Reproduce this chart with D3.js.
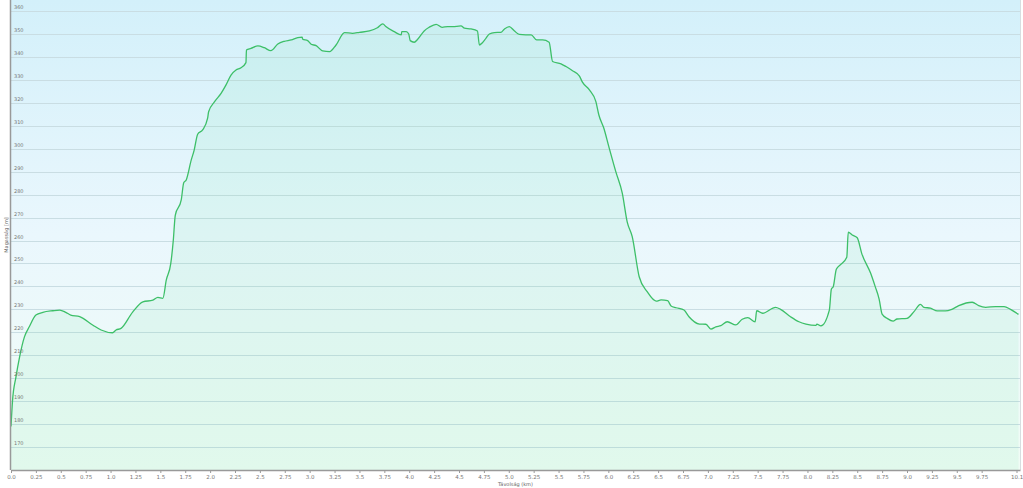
<!DOCTYPE html>
<html>
<head>
<meta charset="utf-8">
<script src="https://cdn.jsdelivr.net/npm/d3@7"></script>
<style>
  body { margin: 0; background: #fff; }
  svg { display: block; font-family: 'DejaVu Sans', sans-serif; }
</style>
</head>
<body>
<div id="chart"></div>
<script>
// distance along the track (km)
const distKm = [
  0.00, 0.015, 0.05, 0.085, 0.135, 0.185, 0.25, 0.32, 0.42, 0.49, 0.55, 0.60, 0.69, 0.82, 0.905,
  1.02, 1.055, 1.105, 1.22, 1.325, 1.425, 1.475, 1.525, 1.56, 1.605, 1.63, 1.65, 1.71, 1.735, 1.76,
  1.81, 1.84, 1.875, 1.925, 1.975, 1.985, 2.045, 2.11, 2.16, 2.21, 2.26, 2.31, 2.36, 2.365, 2.41,
  2.48, 2.545, 2.61, 2.68, 2.745, 2.815, 2.88, 2.925, 2.93, 2.98, 3.015, 3.065, 3.13, 3.20, 3.265,
  3.35, 3.43, 3.50, 3.60, 3.68, 3.735, 3.765, 3.85, 3.92, 3.925, 3.97, 3.995, 4.01, 4.05, 4.085,
  4.15, 4.20, 4.27, 4.33, 4.385, 4.435, 4.52, 4.555, 4.62, 4.685, 4.705, 4.735, 4.77, 4.805, 4.855,
  4.92, 4.955, 5.005, 5.055, 5.105, 5.17, 5.225, 5.28, 5.34, 5.405, 5.44, 5.525, 5.575, 5.64, 5.71,
  5.74, 5.81, 5.875, 5.905, 5.955, 6.005, 6.075, 6.14, 6.19, 6.24, 6.31, 6.39, 6.48, 6.53, 6.595,
  6.63, 6.68, 6.76, 6.81, 6.915, 6.98, 7.03, 7.08, 7.13, 7.195, 7.28, 7.345, 7.40, 7.475, 7.49,
  7.55, 7.68, 7.73, 7.83, 7.915, 7.985, 8.085, 8.095, 8.135, 8.22, 8.24, 8.26, 8.29, 8.335, 8.395,
  8.41, 8.45, 8.50, 8.545, 8.635, 8.68, 8.72, 8.75, 8.80, 8.86, 8.90, 9.00, 9.07, 9.135, 9.17,
  9.235, 9.305, 9.385, 9.45, 9.52, 9.655, 9.72, 9.79, 9.89, 9.975, 10.04, 10.12
]

// elevation (m)
const elevM = [
  179, 190, 200.6, 209, 218, 222.5, 227.5, 228.7, 229.4, 229.7, 228.7, 227.5, 226.8, 223.2, 221,
  219.8, 221, 221.7, 228.7, 233.3, 234, 235.2, 234.8, 242.8, 250, 260, 271, 277.7, 285.2, 286.4,
  295, 299.4, 306.3, 308.2, 313.3, 316.1, 320.5, 324.1, 327.8, 332.1, 334.3, 335.3, 337.5, 343, 343.7,
  344.8, 344, 342.7, 345.6, 346.8, 347.4, 348.4, 348.6, 347.7, 347.1, 345.5, 344.9, 342.6, 342.3, 345.2,
  350.6, 350.3, 350.7, 351.3, 352.7, 354.4, 353.2, 351, 349.6, 351, 351, 350, 347.1, 346.4, 347.7,
  351.3, 352.9, 354.2, 352.9, 353.2, 353.2, 353.5, 352.5, 352.2, 351.3, 345.2, 346.2, 348.1, 350, 350.6,
  350.7, 352.1, 353.2, 351.4, 349.8, 349.6, 349.6, 347.4, 347.4, 346.4, 338, 337, 335.8, 334, 331.6,
  329, 325.6, 320.5, 314.7, 308.9, 300.9, 290, 280.6, 268, 261.7, 244.2, 237.7, 233.6, 234.1, 233.8,
  231.5, 230.7, 229.7, 226.8, 223.6, 223.5, 221.4, 222.4, 222.9, 224.6, 223.2, 225.7, 226.4, 224.6, 229.4,
  228.3, 230.9, 230, 226.8, 224.6, 223.6, 223, 223.6, 222.8, 229.7, 238.8, 240, 247.5, 249.6, 252.7,
  263.6, 262.4, 261.2, 254.4, 245.7, 240, 234.5, 227.9, 226.1, 224.9, 225.8, 226.1, 229, 232.2, 230.9,
  230.5, 229.3, 229.3, 230, 231.6, 233.1, 231.6, 230.9, 231.2, 231.2, 230, 227.8
]

const yTicks = [170, 180, 190, 200, 210, 220, 230, 240, 250, 260, 270, 280, 290, 300, 310, 320, 330, 340, 350, 360]
const xTicks = [0, 0.25, 0.5, 0.75, 1, 1.25, 1.5, 1.75, 2, 2.25, 2.5, 2.75, 3, 3.25, 3.5, 3.75, 4, 4.25,
  4.5, 4.75, 5, 5.25, 5.5, 5.75, 6, 6.25, 6.5, 6.75, 7, 7.25, 7.5, 7.75, 8, 8.25, 8.5, 8.75, 9, 9.25,
  9.5, 9.75, 10.1]
const xTickLabel = v => Number.isInteger(v) ? v.toFixed(1) : String(v)

const xTitle = 'Távolság (km)'
const yTitle = 'Magasság [m]'

const W = 1023
const H = 488
const margin = { top: 0, right: 3, bottom: 18, left: 11 }
const w = W - margin.left - margin.right
const h = H - margin.top - margin.bottom

const data = distKm.map((d, i) => ({ x: d, y: elevM[i] }))

const x = d3.scaleLinear().domain([0, 10.135]).range([0, w])
const y = d3.scaleLinear().domain([160, 364.8]).range([h, 0])

const svg = d3.select('#chart').append('svg')
  .attr('width', W)
  .attr('height', H)

const defs = svg.append('defs')
const bg = defs.append('linearGradient').attr('id', 'bg')
  .attr('x1', 0).attr('y1', 0).attr('x2', 0).attr('y2', 1)
bg.append('stop').attr('offset', '0%').attr('stop-color', '#d3f0fa')
bg.append('stop').attr('offset', '50%').attr('stop-color', '#eaf7fd')
bg.append('stop').attr('offset', '100%').attr('stop-color', '#f0fcf5')

const g = svg.append('g')
  .attr('transform', 'translate(' + margin.left + ',' + margin.top + ')')

g.append('rect')
  .attr('width', w)
  .attr('height', h)
  .attr('fill', 'url(#bg)')

// horizontal grid
g.append('g')
  .selectAll('line')
  .data(yTicks)
  .join('line')
  .attr('x1', 0)
  .attr('x2', w)
  .attr('y1', d => Math.round(y(d)) + 0.5)
  .attr('y2', d => Math.round(y(d)) + 0.5)
  .attr('stroke', '#c9dde3')
  .attr('stroke-width', 1)

// area + line
const area = d3.area()
  .curve(d3.curveMonotoneX)
  .x(d => x(d.x))
  .y0(h)
  .y1(d => y(d.y))

const line = d3.line()
  .curve(d3.curveMonotoneX)
  .x(d => x(d.x))
  .y(d => y(d.y))

g.append('path')
  .datum(data)
  .attr('d', area)
  .attr('fill', '#5fe0a0')
  .attr('fill-opacity', 0.1)

g.append('path')
  .datum(data)
  .attr('d', line)
  .attr('fill', 'none')
  .attr('stroke', '#3dbf68')
  .attr('stroke-width', 1.3)
  .attr('stroke-linejoin', 'round')

// y tick labels inside the plot
g.append('g')
  .selectAll('text')
  .data(yTicks)
  .join('text')
  .attr('x', 3)
  .attr('y', d => y(d) - 2)
  .attr('font-size', 5)
  .attr('fill', '#777')
  .text(d => d)

// right border
g.append('line')
  .attr('x1', w + 0.5).attr('x2', w + 0.5)
  .attr('y1', 0).attr('y2', h)
  .attr('stroke', '#d8dde0')

// left axis line
g.append('line')
  .attr('x1', -0.5).attr('x2', -0.5)
  .attr('y1', 0).attr('y2', h)
  .attr('stroke', '#999')
  .attr('stroke-width', 1.5)

// bottom axis
const xAxis = g.append('g')
  .attr('transform', 'translate(0,' + h + ')')
  .call(d3.axisBottom(x).tickValues(xTicks).tickFormat(xTickLabel).tickSize(3).tickSizeOuter(0))
xAxis.select('.domain').attr('stroke', '#999').attr('stroke-width', 1.5)
xAxis.selectAll('.tick line').attr('stroke', '#999')
xAxis.selectAll('.tick text')
  .attr('font-size', 5.5)
  .attr('fill', '#777')
  .attr('dy', '0.55em')
  .attr('font-family', 'DejaVu Sans, sans-serif')

svg.append('text')
  .attr('x', margin.left + w / 2)
  .attr('y', H - 2)
  .attr('text-anchor', 'middle')
  .attr('font-size', 5)
  .attr('fill', '#666')
  .text(xTitle)

svg.append('text')
  .attr('transform', 'translate(8,' + (margin.top + h / 2) + ') rotate(-90)')
  .attr('text-anchor', 'middle')
  .attr('font-size', 5)
  .attr('fill', '#666')
  .text(yTitle)
</script>
</body>
</html>
